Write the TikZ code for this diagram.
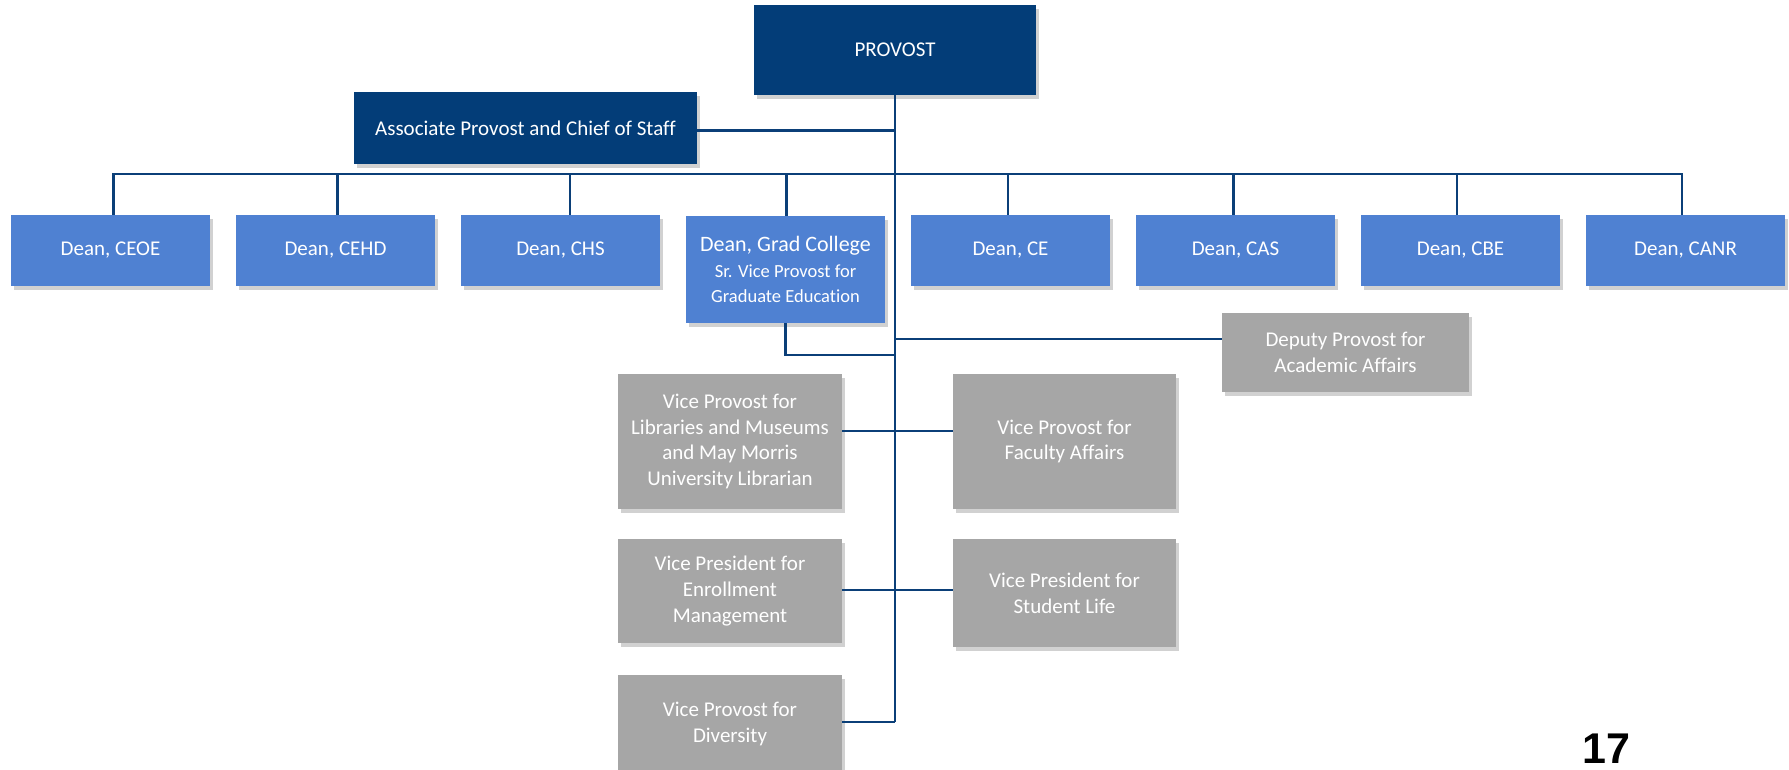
\documentclass[tikz,border=0pt]{standalone}
\usepackage{fontspec}
\setmainfont{Carlito}[Ligatures=NoCommon]
\newfontfamily\pagenumfont{Liberation Sans}
\usetikzlibrary{shadows}
\definecolor{navy}{HTML}{033D78}
\definecolor{deanblue}{HTML}{4F81D2}
\definecolor{boxgray}{HTML}{A6A6A6}
\definecolor{linecol}{HTML}{0B3F78}
\tikzset{
  box/.style={rectangle, inner sep=0pt, align=center, text=white,
    font=\fontsize{21}{25.7}\selectfont,
    drop shadow={shadow xshift=3pt, shadow yshift=-4pt, opacity=0.18, fill=black}},
  navybox/.style={box, fill=navy},
  deanbox/.style={box, fill=deanblue, minimum width=199pt, minimum height=71pt},
  graybox/.style={box, fill=boxgray},
  link/.style={draw=linecol, line width=2.2pt}
}
\begin{document}
\begin{tikzpicture}[x=1pt, y=-1pt]
\useasboundingbox (0,0) rectangle (1789,770);
\clip (0,0) rectangle (1789,770);

% top
\node[navybox, minimum width=282pt, minimum height=90pt] (provost) at (895,50) {PROVOST};
\node[navybox, minimum width=343pt, minimum height=72pt] (assoc) at (525.5,128) {Associate Provost and Chief of Staff};

% deans
\node[deanbox] (d1) at (110.5,250.5) {Dean, CEOE};
\node[deanbox] (d2) at (335.5,250.5) {Dean, CEHD};
\node[deanbox] (d3) at (560.5,250.5) {Dean, CHS};
\node[box, fill=deanblue, minimum width=199pt, minimum height=107pt] (d4) at (785.5,269.5)
  {\fontsize{22}{25}\selectfont Dean, Grad College\\\fontsize{18.5}{23.5}\selectfont Sr. Vice Provost for\\\fontsize{18.5}{23.5}\selectfont Graduate Education};
\node[deanbox] (d5) at (1010.5,250.5) {Dean, CE};
\node[deanbox] (d6) at (1235.5,250.5) {Dean, CAS};
\node[deanbox] (d7) at (1460.5,250.5) {Dean, CBE};
\node[deanbox] (d8) at (1685.5,250.5) {Dean, CANR};

% gray boxes
\node[graybox, minimum width=247pt, minimum height=79pt] (deputy) at (1345.5,352.5) {Deputy Provost for\\Academic Affairs};
\node[graybox, minimum width=224pt, minimum height=135pt] (lib) at (730,441.5) {Vice Provost for\\Libraries and Museums\\and May Morris\\University Librarian};
\node[graybox, minimum width=223pt, minimum height=135pt] (fac) at (1064.5,441.5) {Vice Provost for\\Faculty Affairs};
\node[graybox, minimum width=224pt, minimum height=104pt] (enr) at (730,591) {Vice President for\\Enrollment\\Management};
\node[graybox, minimum width=223pt, minimum height=108pt] (stu) at (1064.5,593) {Vice President for\\Student Life};
\node[graybox, minimum width=224pt, minimum height=98pt] (div) at (730,724) {Vice Provost for\\Diversity};

% connectors
\coordinate (bus) at (0,174);
\coordinate (vend) at (895,722);
\draw[link] (provost.south) -- (vend);
\draw[link] (assoc.east |- 0,130.5) -- (provost.south |- 0,130.5);
\draw[link] ([xshift=3pt]d1.north) -- ([xshift=3pt]d1.north |- bus) -- ([xshift=-3.5pt]d8.north |- bus) -- ([xshift=-3.5pt]d8.north);
\draw[link] ([xshift=2pt]d2.north) -- ([xshift=2pt]d2.north |- bus);
\draw[link] ([xshift=9.5pt]d3.north) -- ([xshift=9.5pt]d3.north |- bus);
\draw[link] ([xshift=1pt]d4.north) -- ([xshift=1pt]d4.north |- bus);
\draw[link] ([xshift=-2.5pt]d5.north) -- ([xshift=-2.5pt]d5.north |- bus);
\draw[link] ([xshift=-2pt]d6.north) -- ([xshift=-2pt]d6.north |- bus);
\draw[link] ([xshift=-3.5pt]d7.north) -- ([xshift=-3.5pt]d7.north |- bus);
\draw[link] (d4.south) -- (d4.south |- 0,355) -- (provost.south |- 0,355);
\draw[link] (deputy.west |- 0,339) -- (provost.south |- 0,339);
\draw[link] (lib.east |- 0,431) -- (fac.west |- 0,431);
\draw[link] (enr.east |- 0,590) -- (stu.west |- 0,590);
\draw[link] (div.east |- vend) -- (vend);

% page number
\node[anchor=base, inner sep=0pt, font=\pagenumfont\fontsize{43}{50}\selectfont\bfseries] (pnum) at (1606,763) {17};
\end{tikzpicture}
\end{document}
